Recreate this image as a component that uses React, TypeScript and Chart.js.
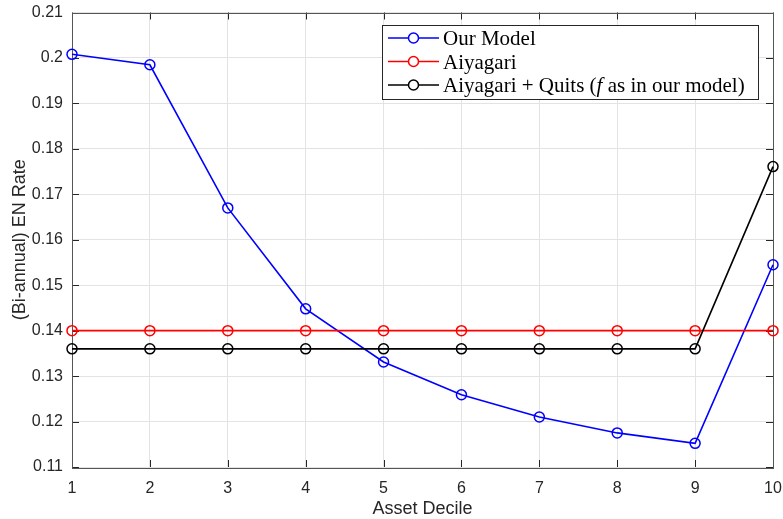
import React, { useEffect, useRef } from 'react';
import { Chart, registerables } from 'chart.js';

Chart.register(...registerables);

const deciles = [1, 2, 3, 4, 5, 6, 7, 8, 9, 10];
const ourModel = [0.2008, 0.1985, 0.167, 0.1448, 0.1331, 0.1259, 0.121, 0.1175, 0.1152, 0.1545];
const aiyagari = [0.14, 0.14, 0.14, 0.14, 0.14, 0.14, 0.14, 0.14, 0.14, 0.14];
const aiyagariQuits = [0.136, 0.136, 0.136, 0.136, 0.136, 0.136, 0.136, 0.136, 0.136, 0.1761];
const yTickValues = [0.11, 0.12, 0.13, 0.14, 0.15, 0.16, 0.17, 0.18, 0.19, 0.2, 0.21];
const seriesNames = ['Our Model', 'Aiyagari', 'Aiyagari + Quits (f as in our model)'];
// legend label parts: [text, italic]
const legendParts: [string, boolean][][] = [
  [['Our Model', false]],
  [['Aiyagari', false]],
  [['Aiyagari + Quits (', false], ['f', true], [' as in our model)', false]],
];
const seriesColors = ['#0000ff', '#ff0000', '#000000'];

const AXIS_COLOR = '#262626';
const GRID_COLOR = '#e3e3e3';
const SANS = '"Liberation Sans", Arial, Helvetica, sans-serif';
const SERIF = '"Liberation Serif", "Times New Roman", serif';

const matlabFrame = {
  id: 'matlabFrame',
  beforeDatasetsDraw(chart: any) {
    const { ctx, chartArea } = chart;
    const { left, right, top, bottom } = chartArea;
    const xs = chart.scales.x;
    const ys = chart.scales.y;
    const tl = 7;
    ctx.save();
    ctx.strokeStyle = AXIS_COLOR;
    ctx.lineWidth = 1;
    ctx.beginPath();
    deciles.forEach((d) => {
      const px = Math.round(xs.getPixelForValue(d)) + 0.5;
      ctx.moveTo(px, bottom);
      ctx.lineTo(px, bottom - tl);
      ctx.moveTo(px, top);
      ctx.lineTo(px, top + tl);
    });
    yTickValues.forEach((v) => {
      const py = Math.round(ys.getPixelForValue(v)) + 0.5;
      ctx.moveTo(left, py);
      ctx.lineTo(left + tl, py);
      ctx.moveTo(right, py);
      ctx.lineTo(right - tl, py);
    });
    ctx.stroke();
    ctx.strokeStyle = '#555555';
    ctx.strokeRect(Math.round(left) + 0.5, Math.round(top) + 0.5, Math.round(right - left), Math.round(bottom - top));
    ctx.restore();
  },
  afterDraw(chart: any) {
    const { ctx } = chart;
    const bx = 382.5, by = 25.5, bw = 376, bh = 74;
    ctx.save();
    ctx.fillStyle = '#ffffff';
    ctx.fillRect(bx, by, bw, bh);
    ctx.strokeStyle = AXIS_COLOR;
    ctx.lineWidth = 1;
    ctx.strokeRect(bx, by, bw, bh);
    const baselines = [45, 68.5, 92];
    legendParts.forEach((parts, i) => {
      const yb = baselines[i];
      const ym = yb - 7;
      ctx.strokeStyle = seriesColors[i];
      ctx.lineWidth = 1.5;
      ctx.beginPath();
      ctx.moveTo(388, ym);
      ctx.lineTo(439, ym);
      ctx.stroke();
      ctx.beginPath();
      ctx.arc(413.5, ym, 5, 0, Math.PI * 2);
      ctx.fillStyle = '#ffffff';
      ctx.fill();
      ctx.stroke();
      let x = 443;
      ctx.fillStyle = '#000000';
      ctx.textBaseline = 'alphabetic';
      ctx.textAlign = 'left';
      parts.forEach(([t, it]) => {
        ctx.font = `${it ? 'italic ' : ''}21px ${SERIF}`;
        ctx.fillText(t, x, yb);
        x += ctx.measureText(t).width;
      });
    });
    ctx.restore();
  },
};

export default function App() {
  const ref = useRef<HTMLCanvasElement | null>(null);
  useEffect(() => {
    document.body.style.margin = '0';
    const canvas = ref.current;
    if (!canvas) return;
    const series = [ourModel, aiyagari, aiyagariQuits];
    const chart = new Chart(canvas, {
      type: 'line',
      data: {
        datasets: series.map((vals, i) => ({
          label: seriesNames[i],
          data: deciles.map((d, j) => ({ x: d, y: vals[j] })),
          borderColor: seriesColors[i],
          backgroundColor: 'rgba(0,0,0,0)',
          pointBorderColor: seriesColors[i],
          pointBackgroundColor: 'rgba(0,0,0,0)',
          pointRadius: 5,
          pointBorderWidth: 1.5,
          borderWidth: 1.6,
          tension: 0,
          clip: false as any,
          order: 3 - i,
        })),
      },
      options: {
        animation: false,
        responsive: false,
        devicePixelRatio: 1,
        layout: { padding: { top: 12.5, right: 10, left: 0, bottom: 0 } },
        plugins: {
          legend: { display: false },
          tooltip: { enabled: false },
        },
        scales: {
          x: {
            type: 'linear',
            min: 1,
            max: 10,
            afterFit: (s: any) => { s.height = 52; s.paddingLeft = 0; s.paddingRight = 0; },
            afterBuildTicks: (s: any) => { s.ticks = deciles.map((v) => ({ value: v })); },
            ticks: {
              color: AXIS_COLOR,
              font: { family: SANS, size: 16 },
              padding: 12,
              maxRotation: 0,
              callback: (v: any) => String(v),
            },
            grid: { color: GRID_COLOR, drawTicks: false, lineWidth: 1 },
            border: { display: false },
            title: {
              display: true,
              text: 'Asset Decile',
              color: AXIS_COLOR,
              font: { family: SANS, size: 18, lineHeight: 1 },
              padding: { top: 0, bottom: 0.5 },
            },
          },
          y: {
            type: 'linear',
            min: 0.11,
            max: 0.21,
            afterFit: (s: any) => { s.width = 72; s.paddingTop = 0; s.paddingBottom = 0; },
            afterBuildTicks: (s: any) => { s.ticks = yTickValues.map((v) => ({ value: v })); },
            ticks: {
              color: AXIS_COLOR,
              font: { family: SANS, size: 16 },
              padding: 9,
              callback: (v: any) => String(Number(Number(v).toFixed(2))),
            },
            grid: { color: GRID_COLOR, drawTicks: false, lineWidth: 1 },
            border: { display: false },
            title: {
              display: true,
              text: '(Bi-annual) EN Rate',
              color: AXIS_COLOR,
              font: { family: SANS, size: 18, lineHeight: 1 },
              padding: { top: 11, bottom: 0 },
            },
          },
        },
      },
      plugins: [matlabFrame],
    });
    return () => chart.destroy();
  }, []);
  return (
    <div style={{ position: 'absolute', left: 0, top: 0, width: 783, height: 519, background: '#ffffff' }}>
      <canvas ref={ref} width={783} height={519} style={{ width: 783, height: 519, display: 'block' }} />
    </div>
  );
}
